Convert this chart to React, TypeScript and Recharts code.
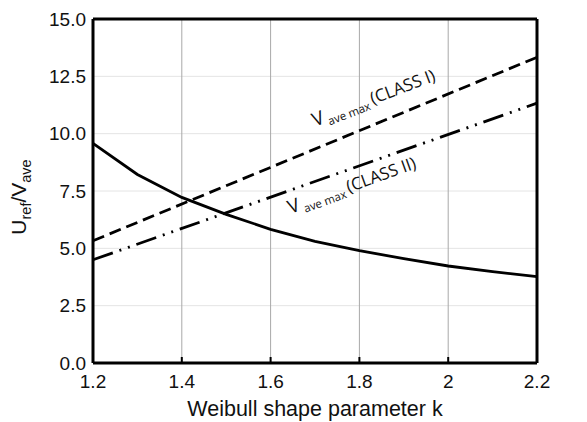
import React from "react";
import {
  LineChart,
  Line,
  XAxis,
  YAxis,
  CartesianGrid,
  ReferenceLine,
  ReferenceDot,
  Label,
} from "recharts";

// Weibull shape parameter k (x axis)
const K_VALUES = [1.2, 1.3, 1.4, 1.5, 1.6, 1.7, 1.8, 1.9, 2.0, 2.1, 2.2];
// U_ref / V_ave (solid curve)
const UREF_RATIO = [9.58, 8.22, 7.22, 6.48, 5.83, 5.3, 4.9, 4.55, 4.23, 3.98, 3.77];

// straight lines: V_ave max for the two classes
const CLASS_K = [1.2, 2.2];
const CLASS_I = [5.33, 13.33];
const CLASS_II = [4.5, 11.33];

const X_TICKS = [1.2, 1.4, 1.6, 1.8, 2, 2.2];
const Y_TICKS = [0, 2.5, 5, 7.5, 10, 12.5, 15];

// where the rotated line labels start (data coords)
const LABEL_I = { k: 1.7, v: 10.3, text: "(CLASS I)" };
const LABEL_II = { k: 1.645, v: 6.5, text: "(CLASS II)" };

const curveData = K_VALUES.map((k, i) => ({ k, v: UREF_RATIO[i] }));
const classIData = CLASS_K.map((k, i) => ({ k, v: CLASS_I[i] }));
const classIIData = CLASS_K.map((k, i) => ({ k, v: CLASS_II[i] }));

const AXIS_FONT = "'Liberation Sans', Arial, Helvetica, sans-serif";
const NOTE_FONT = "'Open Sans', 'Noto Sans', sans-serif";
const TICK = { fontSize: 19, fill: "#111", fontFamily: AXIS_FONT };
const FRAME = { stroke: "#000", strokeWidth: 3 };

function lineLabel(text: string, angle: number) {
  return (p: any) => (
    <text
      x={p.cx}
      y={p.cy}
      transform={`rotate(${-angle}, ${p.cx}, ${p.cy})`}
      fontFamily={NOTE_FONT}
      fill="#111"
      fontSize={19}
    >
      <tspan>V</tspan>
      <tspan dx={3} dy={4} fontSize={11.5}>ave max</tspan>
      <tspan dx={3} dy={-4} fontSize={17}>{text}</tspan>
    </text>
  );
}

function YTitle(props: any) {
  const vb = props.viewBox || {};
  const cx = 26;
  const cy = (vb.y ?? 19) + (vb.height ?? 344) / 2 + 6;
  return (
    <text
      x={cx}
      y={cy}
      transform={`rotate(-90, ${cx}, ${cy})`}
      textAnchor="middle"
      fontFamily={AXIS_FONT}
      fontSize={21}
      fill="#111"
    >
      <tspan>U</tspan>
      <tspan dy={5} fontSize={14.5}>ref</tspan>
      <tspan dy={-5}>/V</tspan>
      <tspan dy={5} fontSize={14.5}>ave</tspan>
    </text>
  );
}

export default function App() {
  return (
    <div style={{ position: "absolute", left: 0, top: 0, background: "#fff" }}>
      <LineChart
        width={587}
        height={422}
        data={curveData}
        margin={{ top: 19, right: 0, bottom: 0, left: 8 }}
      >
        <CartesianGrid vertical={false} stroke="#e4e4e4" strokeWidth={1} />
        <CartesianGrid horizontal={false} stroke="#a8a8a8" strokeWidth={1} />
        <XAxis
          dataKey="k"
          type="number"
          domain={[1.2, 2.2]}
          ticks={X_TICKS}
          tickFormatter={(v: number) => String(v)}
          tick={TICK}
          axisLine={FRAME}
          tickLine={{ stroke: "#000", strokeWidth: 2 }}
          tickSize={-6}
          tickMargin={18}
          height={59}
          interval={0}
        >
          <Label
            value="Weibull shape parameter k"
            position="insideBottom"
            offset={6}
            style={{ fontSize: 21.5, fill: "#111", fontFamily: AXIS_FONT }}
          />
        </XAxis>
        <YAxis
          domain={[0, 15]}
          ticks={Y_TICKS}
          tickFormatter={(v: number) => v.toFixed(1)}
          tick={TICK}
          axisLine={FRAME}
          tickLine={false}
          tickSize={0}
          tickMargin={7}
          width={85}
          interval={0}
        >
          <Label content={<YTitle />} />
        </YAxis>
        <YAxis
          yAxisId="right"
          orientation="right"
          domain={[0, 15]}
          ticks={Y_TICKS}
          tickFormatter={(v: number) => v.toFixed(1)}
          tick={{ ...TICK, textAnchor: "start" }}
          axisLine={FRAME}
          tickLine={false}
          tickSize={0}
          tickMargin={8}
          width={50}
          interval={0}
        />
        <ReferenceLine y={15} stroke="#000" strokeWidth={3} />
        <Line
          type="linear"
          dataKey="v"
          stroke="#000"
          strokeWidth={2.8}
          dot={false}
          isAnimationActive={false}
        />
        <Line
          data={classIData}
          type="linear"
          dataKey="v"
          stroke="#000"
          strokeWidth={2.8}
          strokeDasharray="12 6"
          dot={false}
          isAnimationActive={false}
        />
        <Line
          data={classIIData}
          type="linear"
          dataKey="v"
          stroke="#000"
          strokeWidth={2.8}
          strokeDasharray="21 7 2 7 2 7"
          dot={false}
          isAnimationActive={false}
        />
        <ReferenceDot x={LABEL_I.k} y={LABEL_I.v} r={1} shape={lineLabel(LABEL_I.text, 21)} />
        <ReferenceDot x={LABEL_II.k} y={LABEL_II.v} r={1} shape={lineLabel(LABEL_II.text, 20)} />
      </LineChart>
    </div>
  );
}
